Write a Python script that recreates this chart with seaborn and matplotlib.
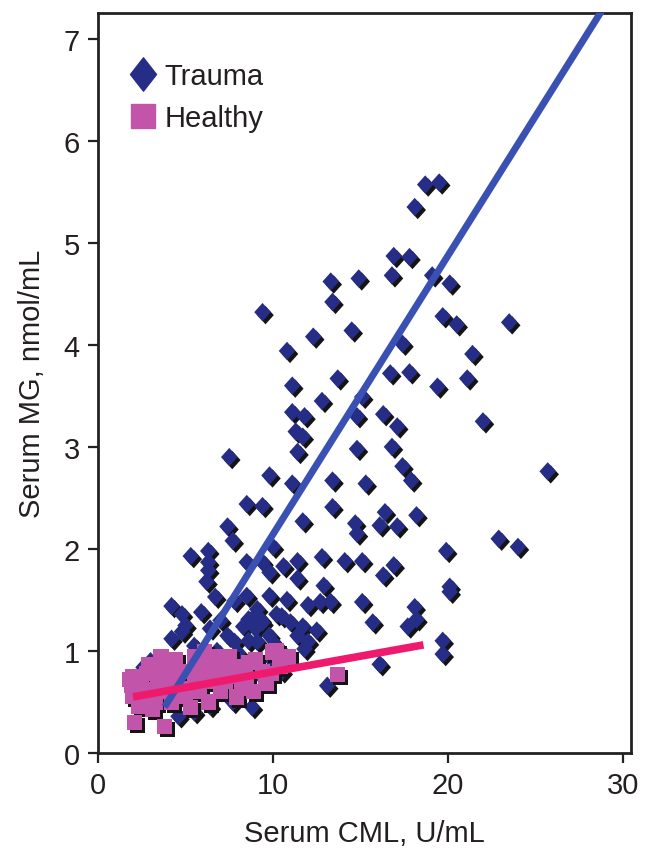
import numpy as np
import pandas as pd
import seaborn as sns
import matplotlib
matplotlib.use("Agg")
import matplotlib.pyplot as plt
from matplotlib.path import Path
from matplotlib.lines import Line2D
from matplotlib.transforms import ScaledTranslation

# data
trauma_x = [18.7, 19.5, 18.1, 16.9, 17.8, 14.9, 16.8, 13.3, 13.4, 19.1, 20.1,
            9.4, 19.7, 20.5, 23.5, 12.3, 14.5, 17.4, 10.8, 21.4,
            13.7, 16.7, 17.8, 19.4, 21.1, 11.1, 12.8, 15.1, 11.1, 11.8, 14.8, 16.3, 17.1, 22.0,
            11.3, 11.7, 7.5, 11.4, 14.8, 16.8, 17.4, 17.9, 9.8, 11.1, 13.4, 15.3, 25.7,
            8.5, 9.4, 13.4, 16.4, 18.2, 7.4, 11.7, 14.7, 14.8, 16.1, 17.1,
            7.7, 22.9, 24.0, 19.9, 10.0, 5.3, 6.3,
            12.8, 14.1, 15.1, 16.9, 16.3, 6.3, 6.3, 8.5, 9.4, 9.8, 11.4, 11.4, 10.6,
            6.2, 12.9, 20.1, 20.1, 12.7, 13.3, 15.1, 18.1, 9.8, 10.2,
            7.8, 8.5, 6.7, 4.2, 4.8, 5.9, 9.1,
            18.2, 17.7, 15.7, 10.5, 11.7, 11.4, 12.0, 11.8,
            9.3, 9.1, 19.7, 19.7, 16.1, 13.1, 8.8,
            5.0, 4.8, 4.2, 6.4, 7.8, 8.6, 9.4, 9.0,
            2.6, 6.1, 10.0, 4.6, 5.5, 7.7, 6.4, 4.5,
            9.0, 8.6, 8.3, 7.4, 9.8, 10.2, 3.0,
            12.0, 10.8, 12.5, 11.0, 7.0, 5.5, 6.8, 8.0, 10.5, 9.5, 7.2, 5.8, 3.5]
trauma_y = [5.57, 5.59, 5.35, 4.87, 4.86, 4.65, 4.68, 4.62, 4.42, 4.68, 4.60,
            4.32, 4.28, 4.20, 4.22, 4.08, 4.14, 4.01, 3.94, 3.91,
            3.67, 3.72, 3.73, 3.59, 3.67, 3.60, 3.45, 3.49, 3.34, 3.30, 3.30, 3.32, 3.20, 3.25,
            3.15, 3.10, 2.90, 2.95, 2.98, 3.00, 2.81, 2.67, 2.72, 2.64, 2.67, 2.64, 2.76,
            2.44, 2.42, 2.41, 2.36, 2.33, 2.22, 2.27, 2.25, 2.15, 2.23, 2.22,
            2.08, 2.10, 2.02, 1.98, 2.02, 1.93, 1.98,
            1.92, 1.88, 1.88, 1.84, 1.74, 1.87, 1.79, 1.87, 1.87, 1.77, 1.88, 1.71, 1.83,
            1.68, 1.64, 1.63, 1.58, 1.48, 1.48, 1.48, 1.43, 1.54, 1.36,
            1.49, 1.54, 1.53, 1.44, 1.36, 1.38, 1.41,
            1.31, 1.24, 1.28, 1.34, 1.24, 1.15, 1.09, 1.02,
            1.31, 1.09, 1.10, 0.97, 0.87, 0.66, 0.45,
            1.25, 1.19, 1.12, 1.22, 1.09, 1.10, 1.28, 1.22,
            0.84, 0.95, 0.90, 0.36, 0.40, 0.50, 0.46, 0.56,
            1.35, 1.31, 1.24, 1.15, 1.15, 1.05, 0.90,
            1.45, 1.50, 1.20, 1.28, 1.30, 1.05, 1.00, 0.98, 0.80, 0.72, 0.62, 0.65, 0.70]

healthy_x = [2.0, 1.9, 2.0, 2.3, 2.1, 3.8, 2.6, 3.1,
             2.9, 3.7, 3.4, 4.0, 4.8, 5.5, 6.3, 5.0, 4.2, 3.3,
             5.5, 6.1, 6.7, 7.4, 8.0, 7.3, 8.2, 8.6, 9.0, 6.9,
             10.2, 10.9, 10.0, 10.8, 13.7,
             2.5, 3.0, 3.6, 4.4, 4.6, 5.2, 5.9, 6.5, 7.0, 7.8, 8.5, 9.4, 9.6, 10.4,
             5.8, 6.0, 4.4, 3.6, 7.9, 8.9, 9.9, 2.4, 1.8, 2.8, 3.9, 5.3, 6.8, 7.5, 8.4]
healthy_y = [0.75, 0.66, 0.56, 0.46, 0.30, 0.26, 0.50, 0.43,
             0.87, 0.85, 0.73, 0.78, 0.63, 0.70, 0.50, 0.56, 0.50, 0.50,
             0.95, 0.99, 0.85, 0.85, 0.85, 0.70, 0.63, 0.89, 0.92, 0.95,
             1.00, 0.95, 0.99, 0.94, 0.77,
             0.68, 0.62, 0.60, 0.68, 0.80, 0.80, 0.78, 0.70, 0.60, 0.75, 0.72, 0.80, 0.68, 0.85,
             0.60, 0.88, 0.92, 0.95, 0.55, 0.60, 0.78, 0.58, 0.72, 0.78, 0.66, 0.45, 0.78, 0.95, 0.80]

# fitted lines (slope, intercept, x range)
trauma_fit = (0.273, -0.586)
trauma_fit_x = [3.8, 30.0]
healthy_fit = (0.0307, 0.489)
healthy_fit_x = [2.0, 18.6]

x_ticks = [0, 10, 20, 30]
y_ticks = [0, 1, 2, 3, 4, 5, 6, 7]

navy = "#262d86"
pink = "#c254aa"
blue_line = "#3a51b3"
pink_line = "#ef1a6d"
txt = "#231f20"
fs = 21

sns.set_theme(style="ticks")
plt.rcParams['font.family'] = ['Liberation Sans', 'DejaVu Sans']

trauma = pd.DataFrame({'x': trauma_x, 'y': trauma_y})
healthy = pd.DataFrame({'x': healthy_x, 'y': healthy_y})

diamond = Path([(0, 1), (0.9, 0), (0, -1), (-0.9, 0), (0, 1)], closed=True)
tall_diamond = Path([(0, 1), (0.78, 0), (0, -1), (-0.78, 0), (0, 1)], closed=True)

fig = plt.figure(figsize=(6.45, 8.54), dpi=100)
ax = fig.add_axes([0.152, 0.117, 0.826, 0.8665])
shadow = ax.transData + ScaledTranslation(3 / 100, -3 / 100, fig.dpi_scale_trans)

# trauma: black shadow then navy diamond
sns.scatterplot(data=trauma, x='x', y='y', ax=ax, marker=diamond, s=175,
                color="#141414", edgecolor='none', linewidth=0, legend=False, zorder=2)
ax.collections[-1].set_offset_transform(shadow)
sns.scatterplot(data=trauma, x='x', y='y', ax=ax, marker=diamond, s=175,
                color=navy, edgecolor='none', linewidth=0, legend=False, zorder=3)

# healthy: shadow then squares
sns.scatterplot(data=healthy, x='x', y='y', ax=ax, marker='s', s=120,
                color="#141414", edgecolor='none', linewidth=0, legend=False, zorder=4)
ax.collections[-1].set_offset_transform(shadow)
sns.scatterplot(data=healthy, x='x', y='y', ax=ax, marker='s', s=120,
                color=pink, edgecolor='none', linewidth=0, legend=False, zorder=5)

# regression lines
tx = np.array(trauma_fit_x)
hx = np.array(healthy_fit_x)
sns.lineplot(x=tx, y=trauma_fit[0] * tx + trauma_fit[1], ax=ax, color=blue_line,
             linewidth=5, zorder=6, solid_capstyle='butt')
sns.lineplot(x=hx, y=healthy_fit[0] * hx + healthy_fit[1], ax=ax, color=pink_line,
             linewidth=5.5, zorder=7, solid_capstyle='butt')

ax.set_xlim(0, 30.45)
ax.set_ylim(0, 7.25)
ax.set_xticks(x_ticks)
ax.set_yticks(y_ticks)
ax.tick_params(direction='out', length=7, width=1.6, labelsize=fs, colors="#222222",
               labelcolor=txt, pad=6)
for sp in ax.spines.values():
    sp.set_linewidth(2)
    sp.set_color("#222222")
ax.set_xlabel("Serum CML, U/mL", fontsize=fs, color=txt, labelpad=14)
ax.set_ylabel("Serum MG, nmol/mL", fontsize=fs, color=txt, labelpad=13)

handles = [Line2D([], [], linestyle='none', marker=tall_diamond, markersize=24, color=navy),
           Line2D([], [], linestyle='none', marker='s', markersize=17, color=pink)]
ax.legend(handles, ["Trauma", "Healthy"], loc='upper left', bbox_to_anchor=(0.035, 0.95),
          frameon=False, fontsize=fs, handletextpad=0.25, labelspacing=0.5,
          handlelength=1.0, borderaxespad=0, labelcolor=txt)

fig.savefig("out.png", dpi=100)
